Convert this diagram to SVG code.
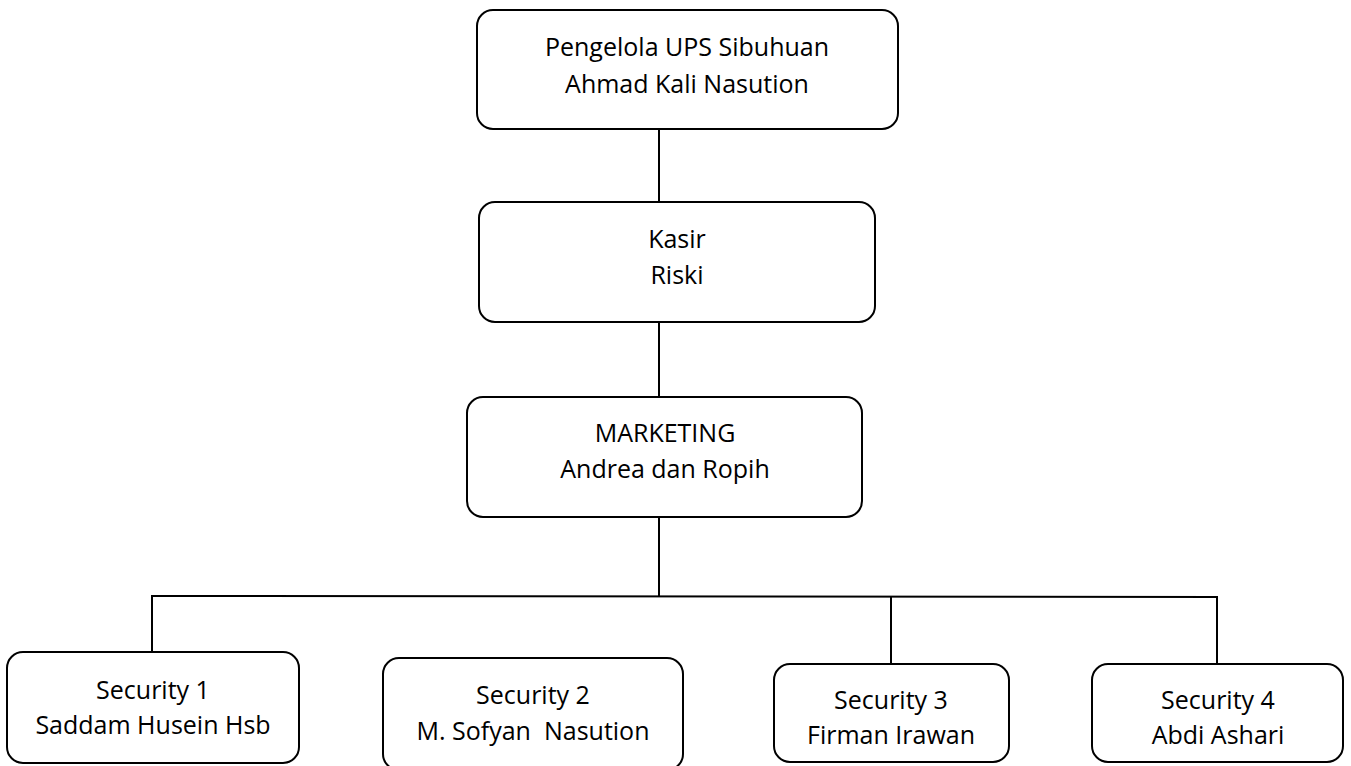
<svg xmlns="http://www.w3.org/2000/svg" width="1351" height="766" viewBox="0 0 1351 766">
<style>
.box{fill:#fff;stroke:#000;stroke-width:2}
.ln{stroke:#000;stroke-width:2;fill:none}
text{font-family:"Open Sans","Noto Sans","Liberation Sans",sans-serif;font-size:25px;fill:#000;text-anchor:middle;white-space:pre}
</style>
<rect width="1351" height="766" fill="#fff"/>
<g id="connectors">
<line class="ln" x1="659" y1="129" x2="659" y2="202"/>
<line class="ln" x1="659" y1="322" x2="659" y2="397"/>
<line class="ln" x1="659" y1="517" x2="659" y2="597"/>
<line class="ln" x1="151" y1="596" x2="1218" y2="597"/>
<line class="ln" x1="152" y1="596" x2="152" y2="652"/>
<line class="ln" x1="891" y1="597" x2="891" y2="664"/>
<line class="ln" x1="1217" y1="597" x2="1217" y2="664"/>
</g>
<g id="pengelola">
<rect class="box" x="477" y="10" width="421" height="119" rx="16"/>
<text x="687" y="56">Pengelola UPS Sibuhuan</text>
<text x="687" y="93">Ahmad Kali Nasution</text>
</g>
<g id="kasir">
<rect class="box" x="479" y="202" width="396" height="120" rx="16"/>
<text x="677" y="248">Kasir</text>
<text x="677" y="284">Riski</text>
</g>
<g id="marketing">
<rect class="box" x="467" y="397" width="395" height="120" rx="16"/>
<text x="665" y="442">MARKETING</text>
<text x="665" y="478">Andrea dan Ropih</text>
</g>
<g id="security1">
<rect class="box" x="7" y="652" width="292" height="111" rx="16"/>
<text x="153" y="699">Security 1</text>
<text x="153" y="734">Saddam Husein Hsb</text>
</g>
<g id="security2">
<rect class="box" x="383" y="658" width="300" height="112" rx="16"/>
<text x="533" y="704">Security 2</text>
<text x="533" y="740">M. Sofyan  Nasution</text>
</g>
<g id="security3">
<rect class="box" x="774" y="664" width="235" height="98" rx="16"/>
<text x="891" y="709">Security 3</text>
<text x="891" y="744">Firman Irawan</text>
</g>
<g id="security4">
<rect class="box" x="1092" y="664" width="251" height="98" rx="16"/>
<text x="1218" y="709">Security 4</text>
<text x="1218" y="744">Abdi Ashari</text>
</g>
</svg>
